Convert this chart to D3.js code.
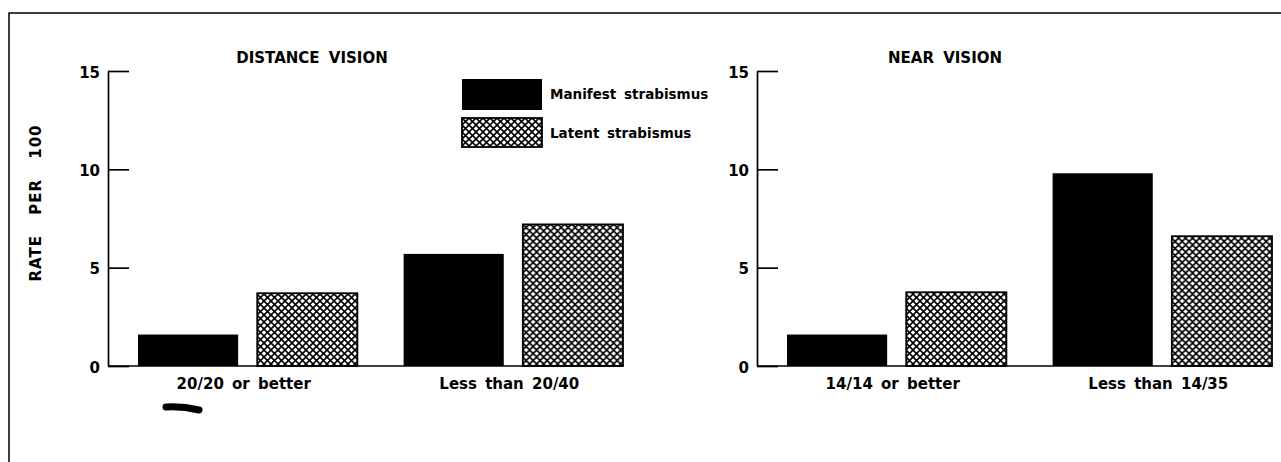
<!DOCTYPE html>
<html>
<head>
<meta charset="utf-8">
<script src="https://cdn.jsdelivr.net/npm/d3@7"></script>
<style>
  body { margin: 0; background: #fff; }
  text { font-family: "DejaVu Sans", sans-serif; font-weight: bold; fill: #000; }
</style>
</head>
<body>
<div class="chart"></div>
<script>
var svgWidth = 1281;
var svgHeight = 462;

// data (rate per 100)
var seriesNames = ["Manifest strabismus", "Latent strabismus"];
var distanceCategories = ["20/20 or better", "Less than 20/40"];
var distanceManifest = [1.6, 5.7];
var distanceLatent = [3.7, 7.2];
var nearCategories = ["14/14 or better", "Less than 14/35"];
var nearManifest = [1.6, 9.8];
var nearLatent = [3.75, 6.6];
var yTicks = [0, 5, 10, 15];

var svg = d3.select(".chart")
  .append("svg")
  .attr("width", svgWidth)
  .attr("height", svgHeight);

// cross-hatch fill
var defs = svg.append("defs");
var pat = defs.append("pattern")
  .attr("id", "hatch")
  .attr("patternUnits", "userSpaceOnUse")
  .attr("width", 7)
  .attr("height", 7);
pat.append("rect").attr("width", 7).attr("height", 7).attr("fill", "#fff");
pat.append("path")
  .attr("d", "M-1,-1 L8,8 M-1,8 L8,-1")
  .attr("stroke", "#000")
  .attr("stroke-width", 1.6);

var fills = ["#000", "url(#hatch)"];

// frame of the page
svg.append("path")
  .attr("d", "M9,462 L9,13 L1281,13")
  .attr("fill", "none")
  .attr("stroke", "#000")
  .attr("stroke-width", 1.5);

var yScale = d3.scaleLinear().domain([0, 15]).range([366, 71]);

function drawPanel(axisX, titleX, title, categories, manifest, latent) {
  var g = svg.append("g");

  var x0 = d3.scaleBand()
    .domain(categories)
    .range([axisX + 30, axisX + 515])
    .paddingInner(0.174)
    .paddingOuter(0);

  var x1 = d3.scaleBand()
    .domain(seriesNames)
    .range([0, x0.bandwidth()])
    .paddingInner(0.16);

  var rows = categories.map(function(c, i) {
    return { cat: c, values: [manifest[i], latent[i]] };
  });

  // bars
  var groups = g.selectAll(".grp")
    .data(rows)
    .enter()
    .append("g")
    .attr("transform", d => `translate(${x0(d.cat)},0)`);

  groups.selectAll("rect")
    .data(d => d.values.map((v, j) => ({ s: seriesNames[j], v: v, j: j })))
    .enter()
    .append("rect")
    .attr("x", d => x1(d.s))
    .attr("y", d => yScale(d.v))
    .attr("width", x1.bandwidth())
    .attr("height", d => yScale(0) - yScale(d.v))
    .attr("fill", d => fills[d.j])
    .attr("stroke", "#000")
    .attr("stroke-width", d => d.j ? 1.8 : 0);

  // y axis, ticks pointing inward
  var yAxis = d3.axisLeft(yScale)
    .tickValues(yTicks)
    .tickSizeInner(-21)
    .tickSizeOuter(0)
    .tickPadding(8);

  var ax = g.append("g")
    .attr("transform", `translate(${axisX},0)`)
    .call(yAxis);
  ax.select(".domain").attr("stroke-width", 1.7);
  ax.selectAll(".tick line").attr("stroke-width", 1.7);
  ax.selectAll(".tick text")
    .attr("dy", "0.4em")
    .style("font-size", "15px")
    .style("font-family", "'DejaVu Sans', sans-serif")
    .style("font-weight", "bold");

  // baseline
  g.append("line")
    .attr("x1", axisX)
    .attr("x2", x0.range()[1])
    .attr("y1", yScale(0))
    .attr("y2", yScale(0))
    .attr("stroke", "#000")
    .attr("stroke-width", 1.7);

  // category labels
  g.selectAll(".cat")
    .data(categories)
    .enter()
    .append("text")
    .attr("x", d => x0(d) + x0.bandwidth() / 2 - 4)
    .attr("y", 389)
    .attr("text-anchor", "middle")
    .style("font-size", "15px")
    .style("word-spacing", "3px")
    .text(d => d);

  g.append("text")
    .attr("x", titleX)
    .attr("y", 63)
    .attr("text-anchor", "middle")
    .style("font-size", "15px")
    .style("word-spacing", "4px")
    .text(title);
}

drawPanel(108, 312, "DISTANCE VISION", distanceCategories, distanceManifest, distanceLatent);
drawPanel(757, 945, "NEAR VISION", nearCategories, nearManifest, nearLatent);

// y axis title
svg.append("text")
  .attr("transform", "translate(41,203) rotate(-90)")
  .attr("text-anchor", "middle")
  .style("font-size", "15px")
  .style("word-spacing", "14px")
  .style("letter-spacing", "1px")
  .text("RATE PER 100");

// legend
var legend = svg.append("g").attr("transform", "translate(462,79)");
var legendRows = legend.selectAll("g")
  .data(seriesNames)
  .enter()
  .append("g")
  .attr("transform", (d, i) => `translate(0,${i * 39})`);

legendRows.append("rect")
  .attr("width", 80)
  .attr("height", (d, i) => i ? 29 : 31)
  .attr("fill", (d, i) => fills[i])
  .attr("stroke", "#000")
  .attr("stroke-width", (d, i) => i ? 1.8 : 0);

legendRows.append("text")
  .attr("x", 88)
  .attr("y", 20)
  .style("font-size", "13.5px")
  .style("word-spacing", "3px")
  .text(d => d);

// ink smudge on the scan
svg.append("path")
  .attr("d", "M166,407 Q182,406 199,410")
  .attr("fill", "none")
  .attr("stroke", "#000")
  .attr("stroke-width", 7)
  .attr("stroke-linecap", "round");
</script>
</body>
</html>
